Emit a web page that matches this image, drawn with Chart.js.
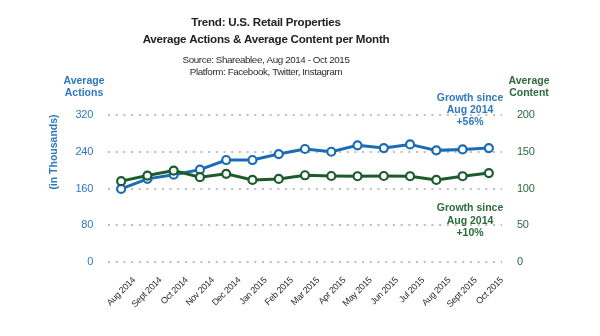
<!DOCTYPE html>
<html>
<head>
<meta charset="utf-8">
<script src="https://cdn.jsdelivr.net/npm/chart.js@4.4.1/dist/chart.umd.min.js"></script>
<style>
  html, body { margin: 0; padding: 0; background: #fff; }
  #wrap { width: 600px; height: 336px; position: relative; }
</style>
</head>
<body>
<div id="wrap"><canvas id="c" width="600" height="336"></canvas></div>
<script>
// Monthly categories
const months = ['Aug 2014', 'Sept 2014', 'Oct 2014', 'Nov 2014', 'Dec 2014', 'Jan 2015', 'Feb 2015',
  'Mar 2015', 'Apr 2015', 'May 2015', 'Jun 2015', 'Jul 2015', 'Aug 2015', 'Sept 2015', 'Oct 2015'];

// Average actions per month (thousands) - left axis
const avgActions = [159, 181, 190, 201, 222, 222, 235, 246, 240, 254, 248, 256, 243, 245, 248];

// Average content per month - right axis
const avgContent = [110, 117.6, 124.4, 115.4, 119.9, 111.7, 113, 118, 117, 116.7, 117, 116.7, 111.7, 116.7, 121];

// Axis tick values
const actionTicks = [0, 80, 160, 240, 320];
const contentTicks = [0, 50, 100, 150, 200];

const BLUE = '#1b6cb5';
const GREEN = '#1c5c2c';
const BLUE_TXT = '#2f78bf';
const GREEN_TXT = '#2d6a3c';
const FONT = '"Liberation Sans", Arial, sans-serif';

// Slightly tighter tracking for axis tick labels
const trackingPlugin = {
  id: 'tracking',
  beforeDraw(chart) { chart.ctx.letterSpacing = '-0.3px'; },
  afterDatasetsDraw(chart) { chart.ctx.letterSpacing = '0px'; }
};

// Titles, axis captions and growth notes
const textPlugin = {
  id: 'texts',
  afterDraw(chart) {
    const ctx = chart.ctx;
    ctx.save();
    ctx.textAlign = 'center';
    ctx.textBaseline = 'middle';
    ctx.fillStyle = '#222';
    ctx.letterSpacing = '-0.25px';
    ctx.font = 'bold 11.6px ' + FONT;
    ctx.fillText('Trend: U.S. Retail Properties', 266, 23);
    ctx.fillText('Average Actions & Average Content per Month', 266, 40);
    ctx.letterSpacing = '-0.4px';
    ctx.font = '9.8px ' + FONT;
    ctx.fillStyle = '#2a2a2a';
    ctx.fillText('Source: Shareablee, Aug 2014 - Oct 2015', 266, 60);
    ctx.fillText('Platform: Facebook, Twitter, Instagram', 266, 72);

    ctx.letterSpacing = '0px';
    ctx.font = 'bold 10.5px ' + FONT;
    ctx.fillStyle = BLUE_TXT;
    ctx.fillText('Average', 84, 81);
    ctx.fillText('Actions', 84, 93);
    ctx.fillStyle = GREEN_TXT;
    ctx.fillText('Average', 529, 81);
    ctx.fillText('Content', 529, 93);

    ctx.fillStyle = BLUE_TXT;
    ctx.fillText('Growth since', 470, 98);
    ctx.fillText('Aug 2014', 470, 110);
    ctx.fillText('+56%', 470, 122);
    ctx.fillStyle = GREEN_TXT;
    ctx.fillText('Growth since', 470, 208);
    ctx.fillText('Aug 2014', 470, 221);
    ctx.fillText('+10%', 470, 233);

    ctx.save();
    ctx.translate(54, 152);
    ctx.rotate(-Math.PI / 2);
    ctx.fillStyle = BLUE_TXT;
    ctx.fillText('(in Thousands)', 0, 0);
    ctx.restore();
    ctx.restore();
  }
};

new Chart(document.getElementById('c'), {
  type: 'line',
  data: {
    labels: months,
    datasets: [
      {
        label: 'Average Content',
        data: avgContent,
        yAxisID: 'yContent',
        borderColor: GREEN,
        backgroundColor: '#fff',
        borderWidth: 3,
        pointRadius: 4,
        pointBorderWidth: 2.2,
        pointBackgroundColor: '#fff',
        pointBorderColor: GREEN,
        tension: 0
      },
      {
        label: 'Average Actions',
        data: avgActions,
        yAxisID: 'yActions',
        borderColor: BLUE,
        backgroundColor: '#fff',
        borderWidth: 3,
        pointRadius: 4,
        pointBorderWidth: 2.2,
        pointBackgroundColor: '#fff',
        pointBorderColor: BLUE,
        tension: 0
      }
    ]
  },
  options: {
    responsive: false,
    animation: false,
    layout: { padding: { top: 115, left: 0, right: 0, bottom: 0 } },
    plugins: {
      legend: { display: false },
      tooltip: { enabled: false }
    },
    scales: {
      x: {
        offset: true,
        grid: { display: false, drawTicks: false },
        border: { display: false },
        ticks: {
          autoSkip: false,
          minRotation: 45,
          maxRotation: 45,
          padding: 13,
          labelOffset: 13,
          color: '#2a2a2a',
          font: { family: FONT, size: 9 }
        },
        afterFit(scale) { scale.height = 74; }
      },
      yActions: {
        position: 'left',
        min: 0,
        max: 320,
        afterBuildTicks(scale) { scale.ticks = actionTicks.map(v => ({ value: v })); },
        grid: {
          drawTicks: false,
          color: '#bdbdbd',
          lineWidth: 2
        },
        border: { display: false, dash: [2, 5.7] },
        ticks: {
          padding: 15,
          color: BLUE_TXT,
          font: { family: FONT, size: 11 }
        },
        afterFit(scale) { scale.width = 108; }
      },
      yContent: {
        position: 'right',
        min: 0,
        max: 200,
        afterBuildTicks(scale) { scale.ticks = contentTicks.map(v => ({ value: v })); },
        grid: { display: false, drawTicks: false },
        border: { display: false },
        ticks: {
          padding: 15,
          color: GREEN_TXT,
          font: { family: FONT, size: 11 }
        },
        afterFit(scale) { scale.width = 98; }
      }
    }
  },
  plugins: [trackingPlugin, textPlugin]
});
</script>
</body>
</html>
